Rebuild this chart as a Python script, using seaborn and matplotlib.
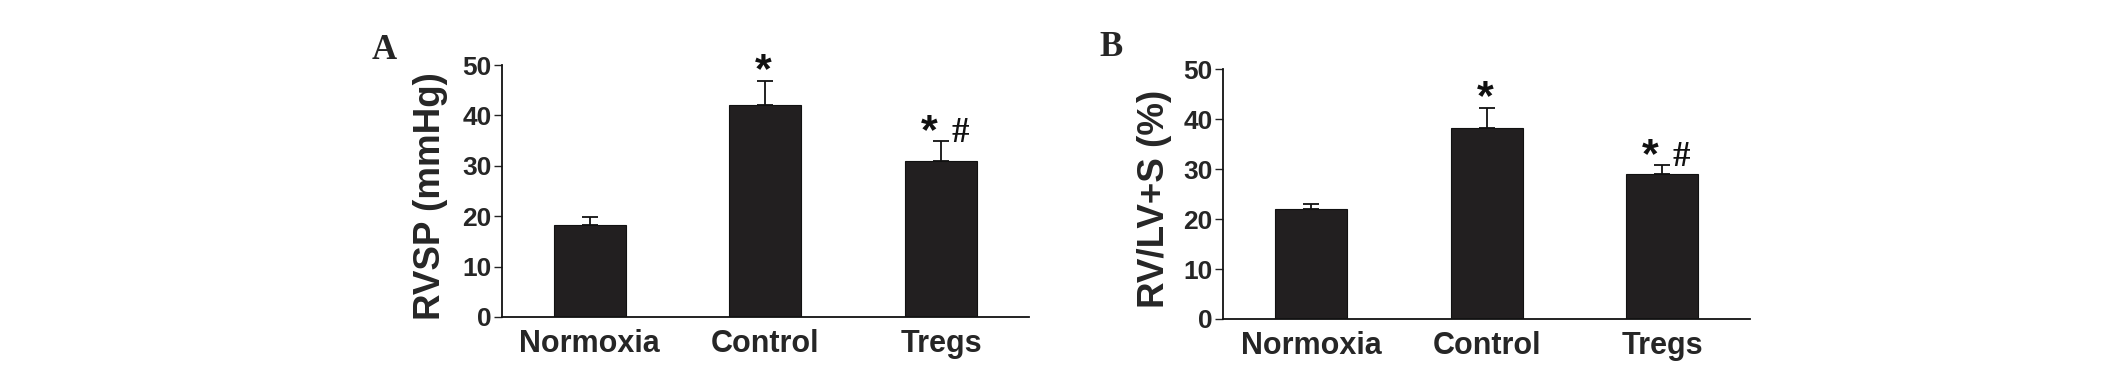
import matplotlib
matplotlib.use('Agg')
import matplotlib.pyplot as plt
import seaborn as sns
import pandas as pd

# Group names and values (mean, upper error = SEM)
groups = ['Normoxia', 'Control', 'Tregs']
rvsp_mean = [18.2, 42.0, 30.9]
rvsp_err = [1.6, 4.9, 4.0]
rvlv_mean = [22.0, 38.3, 29.1]
rvlv_err = [1.0, 4.0, 1.7]
# significance marks: * vs normoxia, # vs control
star = [False, True, True]
hash_ = [False, False, True]

sns.set_style('ticks')
plt.rcParams['font.family'] = ['Liberation Sans', 'DejaVu Sans']
plt.rcParams['font.weight'] = 'bold'

BAR = '#221f20'

fig = plt.figure(figsize=(21.26, 3.86), dpi=100)
axA = fig.add_axes([0.2361, 0.1788, 0.2479, 0.6528])
axB = fig.add_axes([0.5753, 0.1736, 0.2479, 0.6468])


def draw_panel(ax, means, errs, ylabel, label_x):
    df = pd.DataFrame({'group': groups, 'value': means})
    sns.barplot(data=df, x='group', y='value', color=BAR, saturation=1,
                width=0.41, errorbar=None, edgecolor='#111111', linewidth=0.8, ax=ax)
    xs = [p.get_x() + p.get_width() / 2 for p in ax.patches]
    ax.errorbar(xs, means, yerr=[[0] * len(means), errs], fmt='none',
                ecolor='#111111', elinewidth=1.3, capsize=6, capthick=1.3)

    # significance marks above the error bars
    for x, m, e, s, h in zip(xs, means, errs, star, hash_):
        top = m + e
        if s:
            dx = -0.07 if h else -0.01
            ax.text(x + dx, top - 0.3, '*', ha='center', va='baseline', fontsize=31,
                    fontweight='bold', color='#111111', clip_on=False)
        if h:
            ax.text(x + 0.11, top - 0.1, '#', ha='center', va='baseline', fontsize=25,
                    family='Liberation Serif', fontweight='bold', color='#111111',
                    clip_on=False)

    ax.set_xlim(-0.5, 2.5)
    ax.set_ylim(0, 50)
    ax.set_yticks([0, 10, 20, 30, 40, 50])
    ax.set_xlabel('')
    ax.set_ylabel(ylabel, fontsize=26.5, fontweight='bold')
    ax.yaxis.set_label_coords(label_x, 0.48)
    ax.tick_params(axis='x', length=0, pad=9, labelsize=22)
    ax.tick_params(axis='y', length=6, width=1, pad=1.5, labelsize=19)
    for lab in ax.get_xticklabels() + ax.get_yticklabels():
        lab.set_fontweight('bold')
    sns.despine(ax=ax)
    for side in ['left', 'bottom']:
        ax.spines[side].set_linewidth(1.3)
        ax.spines[side].set_color('#111111')


draw_panel(axA, rvsp_mean, rvsp_err, 'RVSP (mmHg)', -0.1025)
draw_panel(axB, rvlv_mean, rvlv_err, 'RV/LV+S (%)', -0.097)

fig.text(372 / 2126, 1 - 34 / 386, 'A', ha='left', va='top', fontsize=25,
         family='Liberation Serif', fontweight='bold')
fig.text(1099 / 2126, 1 - 31 / 386, 'B', ha='left', va='top', fontsize=25,
         family='Liberation Serif', fontweight='bold')

fig.savefig('out.png', dpi=100)
